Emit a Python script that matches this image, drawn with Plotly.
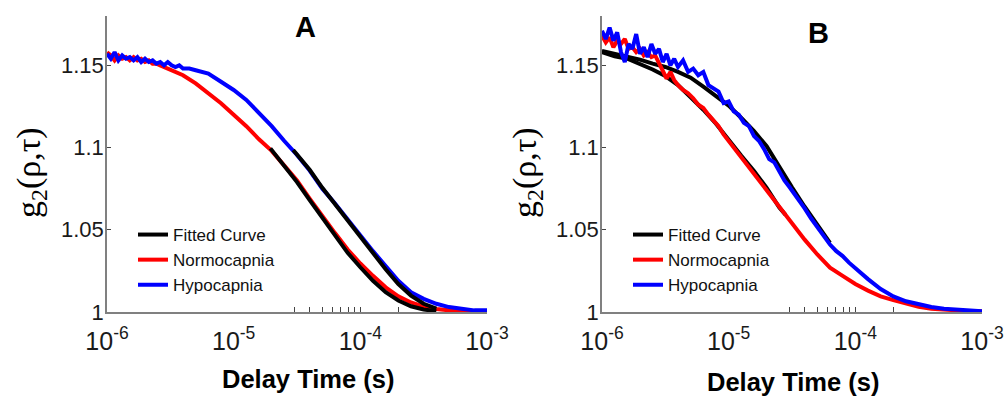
import numpy as np
import plotly.graph_objects as go

# ---------------- data (log10 of delay time, g2 values) ----------------
# Panel A
a_norm_logt = [-6.00,-5.97,-5.94,-5.91,-5.88,-5.85,-5.82,-5.79,-5.76,-5.73,-5.70,-5.67,-5.64,-5.61,-5.58,-5.55,-5.52,-5.49,-5.46,-5.43,-5.40,
               -5.3,-5.2,-5.1,-5.0,-4.9,-4.8,-4.7,-4.6,-4.5,-4.4,-4.3,-4.2,-4.1,-4.0,-3.9,-3.8,-3.7,-3.6,-3.5,-3.4,-3.3,-3.2,-3.1,-3.0]
a_norm_g2 = [1.158,1.156,1.153,1.156,1.154,1.155,1.153,1.155,1.153,1.154,1.152,1.153,1.151,1.151,1.150,1.149,1.148,1.147,1.146,1.145,1.144,
             1.139,1.133,1.127,1.120,1.113,1.105,1.098,1.089,1.080,1.069,1.058,1.048,1.038,1.0295,1.022,1.015,1.0095,1.0058,1.0033,1.0018,1.001,1.0005,1.0003,1.0002]

a_hypo_logt = [-6.00,-5.97,-5.94,-5.91,-5.88,-5.85,-5.82,-5.79,-5.76,-5.73,-5.70,-5.67,-5.64,-5.61,-5.58,-5.55,-5.52,-5.49,-5.46,-5.43,-5.40,-5.35,-5.30,-5.25,-5.20,
               -5.1,-5.0,-4.9,-4.8,-4.7,-4.6,-4.5,-4.4,-4.3,-4.2,-4.1,-4.0,-3.9,-3.8,-3.7,-3.6,-3.5,-3.4,-3.3,-3.2,-3.1,-3.0]
a_hypo_g2 = [1.157,1.154,1.158,1.153,1.156,1.154,1.155,1.153,1.155,1.152,1.154,1.152,1.153,1.151,1.152,1.150,1.152,1.150,1.149,1.150,1.148,1.148,1.147,1.146,1.145,
             1.140,1.135,1.129,1.121,1.113,1.104,1.0955,1.086,1.075,1.066,1.056,1.0468,1.037,1.028,1.019,1.012,1.008,1.005,1.003,1.002,1.001,1.001]

a_fit_norm_logt = [-4.71,-4.6,-4.5,-4.4,-4.3,-4.2,-4.1,-4.0,-3.9,-3.8,-3.7,-3.6,-3.5,-3.4]
a_fit_norm_g2 = [1.0995,1.089,1.079,1.068,1.057,1.046,1.036,1.0272,1.019,1.012,1.007,1.0035,1.0015,1.0005]

a_fit_hypo_logt = [-4.53,-4.4,-4.3,-4.2,-4.1,-4.0,-3.9,-3.8,-3.7,-3.6,-3.5,-3.4]
a_fit_hypo_g2 = [1.0985,1.0865,1.0755,1.0655,1.0555,1.0462,1.036,1.026,1.017,1.010,1.005,1.002]

# Panel B
b_norm_logt = [-6.00,-5.97,-5.94,-5.91,-5.88,-5.85,-5.82,-5.79,-5.76,-5.73,-5.70,-5.67,-5.64,-5.61,-5.58,-5.55,-5.52,-5.49,-5.46,-5.43,-5.40,
               -5.36,-5.32,-5.28,-5.24,-5.20,-5.16,-5.12,-5.08,-5.04,-5.00,-4.96,-4.92,-4.88,-4.84,-4.80,-4.76,-4.72,-4.68,-4.64,-4.60,
               -4.5,-4.4,-4.3,-4.2,-4.1,-4.0,-3.9,-3.8,-3.7,-3.6,-3.5,-3.4,-3.3,-3.2,-3.1,-3.0]
b_norm_g2 = [1.168,1.164,1.167,1.161,1.165,1.163,1.166,1.160,1.161,1.158,1.160,1.156,1.158,1.155,1.156,1.151,1.147,1.142,1.146,1.141,1.138,
             1.135,1.133,1.130,1.126,1.124,1.120,1.116,1.113,1.108,1.104,1.100,1.096,1.092,1.088,1.084,1.080,1.076,1.072,1.068,1.064,
             1.0535,1.044,1.035,1.027,1.022,1.017,1.013,1.0095,1.0072,1.005,1.0032,1.002,1.0013,1.001,1.0005,1.0005]

b_hypo_logt = [-6.00,-5.97,-5.94,-5.91,-5.88,-5.85,-5.82,-5.79,-5.76,-5.73,-5.70,-5.67,-5.64,-5.61,-5.58,-5.55,-5.52,-5.49,-5.46,-5.43,-5.40,
               -5.36,-5.32,-5.28,-5.24,-5.20,-5.16,-5.12,-5.08,-5.04,-5.00,-4.96,-4.92,-4.88,-4.84,-4.80,-4.76,-4.72,-4.68,-4.64,-4.60,
               -4.56,-4.52,-4.48,-4.44,-4.40,-4.35,-4.30,-4.25,-4.20,-4.15,-4.10,-4.05,-4.00,
               -3.9,-3.8,-3.7,-3.6,-3.5,-3.4,-3.3,-3.2,-3.1,-3.0]
b_hypo_g2 = [1.171,1.166,1.173,1.165,1.170,1.158,1.152,1.163,1.160,1.169,1.157,1.161,1.155,1.163,1.157,1.160,1.152,1.157,1.150,1.154,1.149,
             1.153,1.146,1.148,1.144,1.146,1.138,1.136,1.134,1.127,1.128,1.122,1.120,1.115,1.113,1.107,1.104,1.099,1.093,1.091,1.085,
             1.080,1.076,1.072,1.067,1.063,1.057,1.052,1.046,1.041,1.037,1.034,1.030,1.0265,
             1.020,1.014,1.0095,1.0065,1.0045,1.003,1.002,1.0015,1.001,1.0005]

b_fit_norm_logt = [-6.0,-5.9,-5.8,-5.7,-5.6,-5.5,-5.4,-5.3,-5.2,-5.1,-5.0,-4.9,-4.8,-4.7,-4.6,-4.55]
b_fit_norm_g2 = [1.158,1.1555,1.154,1.151,1.1475,1.1435,1.138,1.1305,1.123,1.1145,1.1045,1.095,1.0858,1.0755,1.0635,1.059]

b_fit_hypo_logt = [-6.0,-5.9,-5.8,-5.7,-5.6,-5.5,-5.4,-5.3,-5.2,-5.1,-5.0,-4.9,-4.8,-4.7,-4.6,-4.5,-4.4,-4.3,-4.2]
b_fit_hypo_g2 = [1.1588,1.157,1.1557,1.1535,1.151,1.149,1.146,1.1425,1.137,1.131,1.1255,1.118,1.110,1.1008,1.088,1.0758,1.064,1.053,1.042]

x_tickvals = [1e-6, 1e-5, 1e-4, 1e-3]
x_ticktext = ["10<sup>-6</sup>", "10<sup>-5</sup>", "10<sup>-4</sup>", "10<sup>-3</sup>"]
x_minorvals = [3e-5, 4e-5, 5e-5, 6e-5, 7e-5, 8e-5, 9e-5, 1e-4, 2e-4]
y_tickvals = [1, 1.05, 1.1, 1.15]
y_ticktext = ["1", "1.05", "1.1", "1.15"]
legend_names = ["Fitted Curve", "Normocapnia", "Hypocapnia"]
panel_titles = ["A", "B"]

# ---------------- figure ----------------
BLACK, RED, BLUE = "#000000", "#ff0000", "#0000ff"
LW = 4
W, H = 1004, 396
fig = go.Figure()

def T(v):
    return [10 ** e for e in v]

# Panel A (black drawn last)
fig.add_trace(go.Scatter(x=T(a_norm_logt), y=a_norm_g2, mode="lines", line=dict(color=RED, width=LW),
                         name=legend_names[1], legend="legend", legendrank=2, xaxis="x", yaxis="y"))
fig.add_trace(go.Scatter(x=T(a_hypo_logt), y=a_hypo_g2, mode="lines", line=dict(color=BLUE, width=LW),
                         name=legend_names[2], legend="legend", legendrank=3, xaxis="x", yaxis="y"))
fig.add_trace(go.Scatter(x=T(a_fit_norm_logt), y=a_fit_norm_g2, mode="lines", line=dict(color=BLACK, width=LW),
                         name=legend_names[0], legend="legend", legendrank=1, xaxis="x", yaxis="y"))
fig.add_trace(go.Scatter(x=T(a_fit_hypo_logt), y=a_fit_hypo_g2, mode="lines", line=dict(color=BLACK, width=LW),
                         name=legend_names[0], showlegend=False, xaxis="x", yaxis="y"))

# Panel B (black drawn first)
fig.add_trace(go.Scatter(x=T(b_fit_norm_logt), y=b_fit_norm_g2, mode="lines", line=dict(color=BLACK, width=LW),
                         name=legend_names[0], legend="legend2", legendrank=1, xaxis="x2", yaxis="y2"))
fig.add_trace(go.Scatter(x=T(b_fit_hypo_logt), y=b_fit_hypo_g2, mode="lines", line=dict(color=BLACK, width=LW),
                         name=legend_names[0], showlegend=False, xaxis="x2", yaxis="y2"))
fig.add_trace(go.Scatter(x=T(b_norm_logt), y=b_norm_g2, mode="lines", line=dict(color=RED, width=LW),
                         name=legend_names[1], legend="legend2", legendrank=2, xaxis="x2", yaxis="y2"))
fig.add_trace(go.Scatter(x=T(b_hypo_logt), y=b_hypo_g2, mode="lines", line=dict(color=BLUE, width=LW),
                         name=legend_names[2], legend="legend2", legendrank=3, xaxis="x2", yaxis="y2"))

AX_COLOR = "#808080"
Y_TICK_FONT = dict(family="Arial, Liberation Sans, sans-serif", size=22, color="#1a1a1a")
X_TICK_FONT = dict(family="Arial, Liberation Sans, sans-serif", size=25, color="#1a1a1a")

def xaxis(domain, anchor):
    return dict(type="log", domain=domain, anchor=anchor, range=[-6, -3], automargin=False,
                tickvals=x_tickvals, ticktext=x_ticktext, ticks="", tickfont=X_TICK_FONT,
                ticklabelstandoff=6,
                showline=True, linecolor=AX_COLOR, linewidth=1.5, showgrid=False, zeroline=False,
                minor=dict(tickvals=x_minorvals, ticks="inside", ticklen=5, tickcolor="#444", tickwidth=1))

def yaxis(anchor):
    return dict(domain=[84 / H, 1 - 16 / H], anchor=anchor, range=[1, 1.18], automargin=False,
                tickvals=y_tickvals, ticktext=y_ticktext, ticks="inside", ticklen=4, tickcolor="#444",
                tickfont=Y_TICK_FONT, ticklabelstandoff=-3,
                showline=True, linecolor=AX_COLOR, linewidth=1.5,
                showgrid=False, zeroline=False)

LEG_FONT = dict(family="Arial, Liberation Sans, sans-serif", size=17, color="#111")
fig.update_layout(
    width=W, height=H,
    margin=dict(l=0, r=0, t=0, b=0),
    paper_bgcolor="white", plot_bgcolor="white",
    xaxis=xaxis([107 / W, 487 / W], "y"),
    yaxis=yaxis("x"),
    xaxis2=xaxis([602 / W, 982 / W], "y2"),
    yaxis2=yaxis("x2"),
    legend=dict(x=133 / W, y=1 - 217 / H, xanchor="left", yanchor="top", bgcolor="rgba(0,0,0,0)",
                font=LEG_FONT, tracegroupgap=0, traceorder="normal"),
    legend2=dict(x=628 / W, y=1 - 217 / H, xanchor="left", yanchor="top", bgcolor="rgba(0,0,0,0)",
                 font=LEG_FONT, tracegroupgap=0, traceorder="normal"),
    showlegend=True,
)

TITLE_FONT = dict(family="Arial, Liberation Sans, sans-serif", size=29, color="black")
XT_FONT = dict(family="Arial, Liberation Sans, sans-serif", size=25.5, color="black")
YT_FONT = dict(family="Times New Roman, Liberation Serif, serif", size=34, color="black")
annos = [
    dict(text="<b>" + panel_titles[0] + "</b>", x=305 / W, y=1 - 27 / H, font=TITLE_FONT),
    dict(text="<b>" + panel_titles[1] + "</b>", x=818 / W, y=1 - 33 / H, font=TITLE_FONT),
    dict(text="<b>Delay Time (s)</b>", x=308 / W, y=1 - 379 / H, font=XT_FONT),
    dict(text="<b>Delay Time (s)</b>", x=793 / W, y=1 - 382 / H, font=XT_FONT),
    dict(text="g<sub>2</sub>(ρ,τ)", x=31 / W, y=1 - 173 / H, font=YT_FONT, textangle=-90),
    dict(text="g<sub>2</sub>(ρ,τ)", x=527 / W, y=1 - 173 / H, font=YT_FONT, textangle=-90),
]
for a in annos:
    fig.add_annotation(xref="paper", yref="paper", showarrow=False, xanchor="center", yanchor="middle", **a)

fig.write_html("out.html")
